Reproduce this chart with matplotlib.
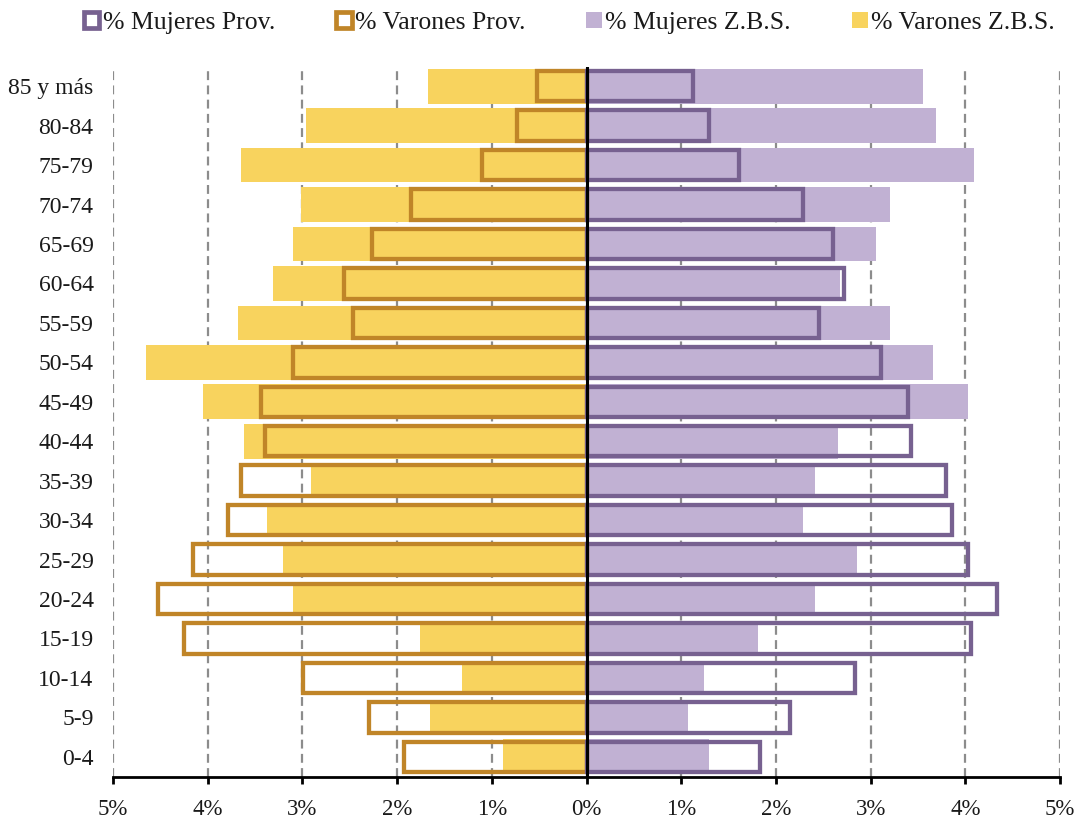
import matplotlib
matplotlib.use("Agg")
import matplotlib.pyplot as plt
from matplotlib.patches import Patch
from matplotlib.ticker import FixedLocator, FuncFormatter

# Population pyramid: province vs. Z.B.S., percentage per age group
ages = ["0-4", "5-9", "10-14", "15-19", "20-24", "25-29", "30-34", "35-39",
        "40-44", "45-49", "50-54", "55-59", "60-64", "65-69", "70-74",
        "75-79", "80-84", "85 y más"]

varones_prov = [1.93, 2.30, 2.99, 4.25, 4.53, 4.16, 3.79, 3.65, 3.39, 3.44,
                3.10, 2.47, 2.56, 2.27, 1.85, 1.10, 0.73, 0.52]
varones_zbs = [0.88, 1.65, 1.31, 1.76, 3.10, 3.20, 3.37, 2.91, 3.62, 4.05,
               4.65, 3.68, 3.31, 3.10, 3.02, 3.65, 2.96, 1.67]
mujeres_prov = [1.83, 2.15, 2.83, 4.06, 4.34, 4.03, 3.86, 3.80, 3.43, 3.40,
                3.11, 2.46, 2.72, 2.60, 2.29, 1.61, 1.29, 1.12]
mujeres_zbs = [1.29, 1.07, 1.24, 1.81, 2.41, 2.86, 2.29, 2.41, 2.66, 4.03,
               3.66, 3.20, 2.68, 3.06, 3.20, 4.09, 3.69, 3.55]

x_ticks = [-5, -4, -3, -2, -1, 0, 1, 2, 3, 4, 5]

PURPLE = "#776190"
LAVENDER = "#C1B1D3"
GOLD = "#C08528"
YELLOW = "#F8D35E"
TEXT = "#1a1a1a"

plt.rcParams["font.family"] = ["Liberation Serif", "DejaVu Serif"]
plt.rcParams["font.size"] = 17

fig = plt.figure(figsize=(10.82, 8.19), dpi=100)
ax = fig.add_axes([113 / 1082, 1 - 776.5 / 819, (1060 - 113) / 1082, (776.5 - 66.5) / 819])

y = list(range(len(ages)))
h_fill = 0.88
lw_px = 4.3
lw_pt = lw_px * 72 / 100
h_out = h_fill - lw_px / 39.45

# Z.B.S. solid bars
ax.barh(y, [-v for v in varones_zbs], height=h_fill, color=YELLOW, zorder=2)
ax.barh(y, mujeres_zbs, height=h_fill, color=LAVENDER, zorder=2)

# Province outline bars
ax.barh(y, [-v for v in varones_prov], height=h_out, facecolor="none",
        edgecolor=GOLD, linewidth=lw_pt, zorder=3)
ax.barh(y, mujeres_prov, height=h_out, facecolor="none",
        edgecolor=PURPLE, linewidth=lw_pt, zorder=3)

# Zero line
ax.axvline(0, color="black", linewidth=2.2, zorder=4)

ax.set_xlim(-5, 5)
ax.set_ylim(-0.5, 17.5)

ax.xaxis.set_major_locator(FixedLocator(x_ticks))
ax.xaxis.set_major_formatter(FuncFormatter(lambda v, p: f"{abs(int(round(v)))}%"))
ax.set_yticks(y)
ax.set_yticklabels(ages)

ax.grid(axis="x", color="#8c8c8c", linestyle=(0, (4, 2.4)), linewidth=1.6, zorder=1)
ax.grid(axis="y", visible=False)
ax.set_axisbelow(True)

for s in ["left", "right", "top"]:
    ax.spines[s].set_visible(False)
ax.spines["bottom"].set_color("black")
ax.spines["bottom"].set_linewidth(2.0)
ax.spines["bottom"].set_zorder(5)

ax.tick_params(axis="x", direction="out", length=5, width=2.0, color="black",
               pad=11, labelcolor=TEXT, labelsize=16.5)
ax.tick_params(axis="y", length=0, pad=14, labelcolor=TEXT, labelsize=17)

handles = [
    Patch(facecolor="white", edgecolor=PURPLE, linewidth=3.4),
    Patch(facecolor="white", edgecolor=GOLD, linewidth=3.4),
    Patch(facecolor=LAVENDER, edgecolor="none"),
    Patch(facecolor=YELLOW, edgecolor="none"),
]
labels = ["% Mujeres Prov.", "% Varones Prov.", "% Mujeres Z.B.S.", "% Varones Z.B.S."]
leg = fig.legend(handles, labels, loc="center", ncol=4,
                 bbox_to_anchor=(569 / 1082, 1 - 23 / 819), frameon=False,
                 handlelength=0.62, handleheight=0.62, handletextpad=0.12,
                 columnspacing=2.37, fontsize=18.5, borderpad=0)
for t in leg.get_texts():
    t.set_color(TEXT)

fig.savefig("out.png", dpi=100)
